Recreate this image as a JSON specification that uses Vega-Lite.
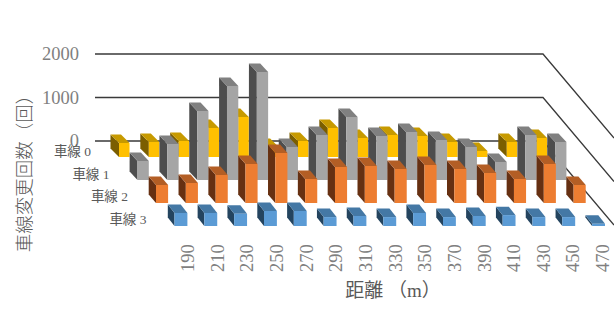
{
  "$schema": "https://vega.github.io/schema/vega-lite/v6.json",
  "width": 614,
  "height": 324,
  "padding": 0,
  "autosize": "none",
  "background": "white",
  "view": {"stroke": null},
  "datasets": {
    "changes": [
      {"lane":0,"distance":190,"count":322},{"lane":0,"distance":210,"count":345},{"lane":0,"distance":230,"count":368},{"lane":0,"distance":250,"count":667},{"lane":0,"distance":270,"count":920},{"lane":0,"distance":290,"count":230},{"lane":0,"distance":310,"count":368},{"lane":0,"distance":330,"count":667},{"lane":0,"distance":350,"count":437},{"lane":0,"distance":370,"count":506},{"lane":0,"distance":390,"count":483},{"lane":0,"distance":410,"count":345},{"lane":0,"distance":430,"count":138},{"lane":0,"distance":450,"count":345},{"lane":0,"distance":470,"count":437},
      {"lane":1,"distance":190,"count":437},{"lane":1,"distance":210,"count":828},{"lane":1,"distance":230,"count":1586},{"lane":1,"distance":250,"count":2161},{"lane":1,"distance":270,"count":2483},{"lane":1,"distance":290,"count":759},{"lane":1,"distance":310,"count":1034},{"lane":1,"distance":330,"count":1448},{"lane":1,"distance":350,"count":1011},{"lane":1,"distance":370,"count":1103},{"lane":1,"distance":390,"count":920},{"lane":1,"distance":410,"count":759},{"lane":1,"distance":430,"count":414},{"lane":1,"distance":450,"count":1034},{"lane":1,"distance":470,"count":874},
      {"lane":2,"distance":190,"count":414},{"lane":2,"distance":210,"count":460},{"lane":2,"distance":230,"count":644},{"lane":2,"distance":250,"count":897},{"lane":2,"distance":270,"count":1149},{"lane":2,"distance":290,"count":552},{"lane":2,"distance":310,"count":828},{"lane":2,"distance":330,"count":851},{"lane":2,"distance":350,"count":782},{"lane":2,"distance":370,"count":874},{"lane":2,"distance":390,"count":782},{"lane":2,"distance":410,"count":690},{"lane":2,"distance":430,"count":552},{"lane":2,"distance":450,"count":897},{"lane":2,"distance":470,"count":414},
      {"lane":3,"distance":190,"count":300},{"lane":3,"distance":210,"count":300},{"lane":3,"distance":230,"count":280},{"lane":3,"distance":250,"count":345},{"lane":3,"distance":270,"count":345},{"lane":3,"distance":290,"count":205},{"lane":3,"distance":310,"count":230},{"lane":3,"distance":330,"count":205},{"lane":3,"distance":350,"count":300},{"lane":3,"distance":370,"count":205},{"lane":3,"distance":390,"count":230},{"lane":3,"distance":410,"count":250},{"lane":3,"distance":430,"count":205},{"lane":3,"distance":450,"count":205},{"lane":3,"distance":470,"count":50}
    ],
    "gridValues": [{"value":0},{"value":1000},{"value":2000}],
    "lanes": [{"lane":0},{"lane":1},{"lane":2},{"lane":3}]
  },
  "encoding": {
    "x": {"field":"px","type":"quantitative","axis":null,"scale":{"domain":[0,614],"nice":false,"zero":false}},
    "y": {"field":"py","type":"quantitative","axis":null,"scale":{"domain":[324,0],"nice":false,"zero":false}}
  },
  "layer": [
    {
      "description": "chart area border",
      "mark": {"type":"rule","color":"#d9d9d9","strokeWidth":1},
      "encoding": {"x":{"datum":7.5},"y":{"datum":8},"y2":{"datum":324}}
    },
    {
      "mark": {"type":"rule","color":"#d9d9d9","strokeWidth":1},
      "encoding": {"y":{"datum":8.5},"x":{"datum":7.5},"x2":{"datum":614}}
    },
    {
      "description": "gridlines on the back wall and the receding side wall",
      "data": {"name":"gridValues"},
      "transform": [
        {"calculate":"141 - datum.value * 0.0435","as":"wallY"},
        {"calculate":"[0,1,2]","as":"pts"},
        {"calculate":"[95,543,614]","as":"xs"},
        {"calculate":"[datum.wallY,datum.wallY,datum.wallY + 84]","as":"ys"},
        {"flatten":["pts","xs","ys"]},
        {"calculate":"datum.xs","as":"px"},
        {"calculate":"datum.ys","as":"py"}
      ],
      "mark": {"type":"line","color":"#3a3a3a","strokeWidth":1.3},
      "encoding": {"detail":{"field":"value"},"order":{"field":"pts"}}
    },
    {
      "description": "value axis labels",
      "data": {"name":"gridValues"},
      "transform": [
        {"calculate":"79","as":"px"},
        {"calculate":"141 - datum.value * 0.0435","as":"py"}
      ],
      "mark": {"type":"text","align":"right","baseline":"middle","font":"Liberation Serif","fontSize":18.5,"color":"#7f7f7f"},
      "encoding": {"text":{"field":"value","type":"nominal"}}
    },
    {
      "description": "lane labels along the depth axis",
      "data": {"name":"lanes"},
      "transform": [
        {"calculate":"91 + 18.5 * datum.lane","as":"px"},
        {"calculate":"152 + 22.7 * datum.lane","as":"py"},
        {"calculate":"'車線 ' + datum.lane","as":"name"}
      ],
      "mark": {"type":"text","align":"right","baseline":"middle","font":"Liberation Serif, Noto Sans CJK JP","fontSize":13.5,"color":"#595959"},
      "encoding": {"text":{"field":"name"}}
    },
    {
      "description": "distance axis labels",
      "data": {"name":"changes"},
      "transform": [
        {"filter":"datum.lane === 3"},
        {"calculate":"188 + 29.65 * (datum.distance - 190) / 20","as":"px"},
        {"calculate":"258","as":"py"}
      ],
      "mark": {"type":"text","angle":270,"align":"center","baseline":"middle","font":"Liberation Serif","fontSize":18.5,"color":"#7f7f7f"},
      "encoding": {"text":{"field":"distance","type":"nominal"}}
    },
    {
      "description": "value axis title",
      "data": {"values":[{"title":"車線変更回数（回）"}]},
      "transform": [{"calculate":"25","as":"px"},{"calculate":"169","as":"py"}],
      "mark": {"type":"text","angle":270,"align":"center","baseline":"middle","font":"Noto Sans CJK JP","fontWeight":300,"fontSize":18.5,"color":"#595959"},
      "encoding": {"text":{"field":"title"}}
    },
    {
      "description": "distance axis title",
      "data": {"values":[{"title":"距離 （m）"}]},
      "transform": [{"calculate":"393","as":"px"},{"calculate":"291","as":"py"}],
      "mark": {"type":"text","align":"center","baseline":"middle","font":"Liberation Serif, Noto Sans CJK JP","fontSize":19,"color":"#595959"},
      "encoding": {"text":{"field":"title"}}
    },
    {
      "description": "3D columns: each row becomes a side, top and front polygon, painted back lane first",
      "data": {"name":"changes"},
      "transform": [
        {"calculate":"119 + 18.5 * datum.lane + 29.83 * (datum.distance - 190) / 20","as":"x0"},
        {"calculate":"10.5 + 0.8 * datum.lane","as":"w"},
        {"calculate":"-8.5 + 0.6 * datum.lane","as":"dx"},
        {"calculate":"157 + 23 * datum.lane","as":"yb"},
        {"calculate":"datum.yb - datum.count * 0.0435","as":"yt"},
        {"calculate":"['side','top','front']","as":"face"},
        {"flatten":["face"]},
        {"calculate":"[0,1,2,3]","as":"pts"},
        {"calculate":"datum.face === 'side' ? [datum.x0,datum.x0,datum.x0+datum.dx,datum.x0+datum.dx] : datum.face === 'top' ? [datum.x0,datum.x0+datum.w,datum.x0+datum.w+datum.dx,datum.x0+datum.dx] : [datum.x0,datum.x0+datum.w,datum.x0+datum.w,datum.x0]","as":"xs"},
        {"calculate":"datum.face === 'side' ? [datum.yb,datum.yt,datum.yt-8.5,datum.yb-8.5] : datum.face === 'top' ? [datum.yt,datum.yt,datum.yt-8.5,datum.yt-8.5] : [datum.yb,datum.yb,datum.yt,datum.yt]","as":"ys"},
        {"flatten":["pts","xs","ys"]},
        {"calculate":"datum.xs","as":"px"},
        {"calculate":"datum.ys","as":"py"},
        {"calculate":"datum.lane + '-' + datum.face","as":"paint"},
        {"calculate":"datum.lane + '-' + datum.distance + '-' + datum.face","as":"polygon"}
      ],
      "mark": {"type":"line","filled":true,"strokeWidth":0},
      "encoding": {
        "detail": {"field":"polygon"},
        "order": {"field":"pts"},
        "color": {
          "field":"paint","type":"nominal","legend":null,
          "scale":{
            "domain":["0-side","0-top","0-front","1-side","1-top","1-front","2-side","2-top","2-front","3-side","3-top","3-front"],
            "range":["#7b5e00","#c79a00","#ffc000","#4d4d4d","#808080","#a5a5a5","#663012","#b35e25","#ed7d31","#24445f","#4478a5","#5b9bd5"]
          }
        }
      }
    }
  ]
}
